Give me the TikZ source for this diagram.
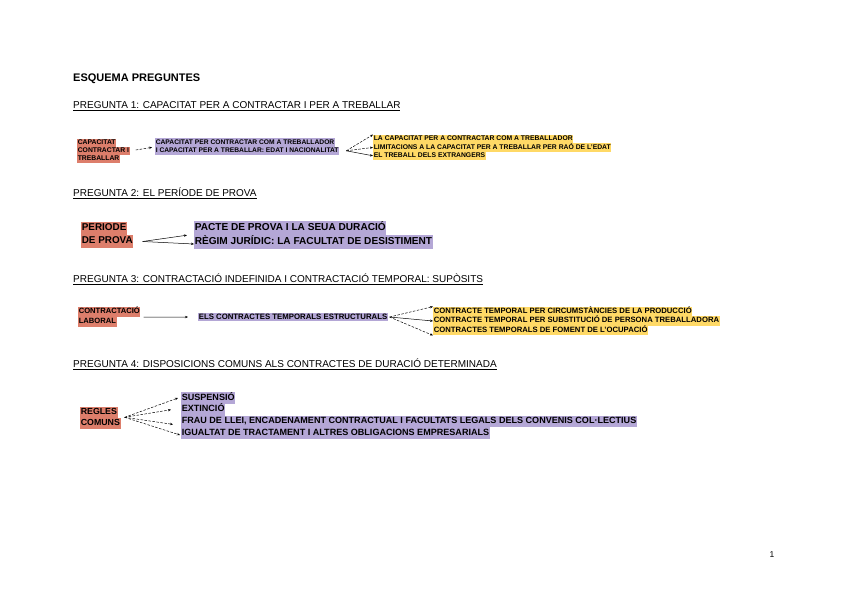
\documentclass[tikz,border=0pt]{standalone}
\usepackage{fontspec}
\setmainfont{Liberation Sans}
\usetikzlibrary{arrows.meta}
\definecolor{hlred}{HTML}{DD7E6B}
\definecolor{hlpur}{HTML}{B4A7D6}
\definecolor{hlyel}{HTML}{FFD966}
\newcommand{\fsz}[1]{\fontsize{#1}{#1}\selectfont}
\begin{document}
\begin{tikzpicture}[x=1pt,y=-1pt,
  hl/.style={anchor=west, inner xsep=0.6pt, inner ysep=0pt},
  q1red/.style={hl, fill=hlred, font=\bfseries\fsz{6.8}, text height=5.6pt, text depth=2.4pt},
  q1pur/.style={hl, fill=hlpur, font=\bfseries\fsz{6.7}, text height=5.8pt, text depth=2.5pt},
  q1yel/.style={hl, fill=hlyel, font=\bfseries\fsz{6.8}, text height=5.8pt, text depth=2.6pt},
  q2red/.style={hl, fill=hlred, font=\bfseries\fsz{9.9}, text height=8.8pt, text depth=4.2pt},
  q2pur/.style={hl, fill=hlpur, font=\bfseries\fsz{10.1}, text height=9.4pt, text depth=4.6pt},
  q3red/.style={hl, fill=hlred, font=\bfseries\fsz{7.6}, text height=6.6pt, text depth=3.2pt},
  q3pur/.style={hl, fill=hlpur, font=\bfseries\fsz{7.8}, text height=6.6pt, text depth=2.2pt},
  q3yel/.style={hl, fill=hlyel, font=\bfseries\fsz{7.7}, text height=6.6pt, text depth=2.9pt},
  q4red/.style={hl, fill=hlred, font=\bfseries\fsz{8.8}, text height=7.6pt, text depth=3.4pt},
  q4pur/.style={hl, fill=hlpur, font=\bfseries\fsz{9.05}, text height=8.0pt, text depth=3.7pt},
  heading/.style={anchor=west, inner sep=0pt, font=\fsz{10}},
  arr/.style={-{Stealth[length=3pt,width=2.4pt]}, line width=0.5pt},
  darr/.style={arr, dash pattern=on 2.5pt off 1.5pt}
]
\useasboundingbox[fill=white] (0,0) rectangle (848,600);

\node[anchor=west, inner sep=0pt, font=\bfseries\fsz{11}] (title) at (73,79) {ESQUEMA PREGUNTES};

% ---------- Pregunta 1
\node[heading] (h1) at (73,106.5) {\underline{PREGUNTA 1: CAPACITAT PER A CONTRACTAR I PER A TREBALLAR}};
\node[q1red] (r1a) at (77,143) {CAPACITAT};
\node[q1red] (r1b) at (77,151) {CONTRACTAR I};
\node[q1red] (r1c) at (77,159) {TREBALLAR};
\node[q1pur] (p1a) at (155,142.5) {CAPACITAT PER CONTRACTAR COM A TREBALLADOR};
\node[q1pur] (p1b) at (155,150.8) {I CAPACITAT PER A TREBALLAR: EDAT I NACIONALITAT};
\node[q1yel] (y1a) at (373,139) {LA CAPACITAT PER A CONTRACTAR COM A TREBALLADOR};
\node[q1yel] (y1b) at (373,147.4) {LIMITACIONS A LA CAPACITAT PER A TREBALLAR PER RAÓ DE L'EDAT};
\node[q1yel] (y1c) at (373,155.8) {EL TREBALL DELS EXTRANGERS};
\draw[darr, shorten <=6pt, shorten >=3pt] (r1b.east) -- (p1a.south west);
\coordinate (f1) at ([xshift=7pt]p1b.east);
\draw[darr] (f1) -- (y1a.north west);
\draw[darr] (f1) -- (y1b.west);
\draw[arr] (f1) -- (y1c.west);

% ---------- Pregunta 2
\node[heading] (h2) at (73,193) {\underline{PREGUNTA 2: EL PERÍODE DE PROVA}};
\node[q2red] (r2a) at (81,228.5) {PERIODE};
\node[q2red] (r2b) at (81,241.5) {DE PROVA};
\node[q2pur] (p2a) at (194,228) {PACTE DE PROVA I LA SEUA DURACIÓ};
\node[q2pur] (p2b) at (194,242) {RÈGIM JURÍDIC: LA FACULTAT DE DESISTIMENT};
\coordinate (f2) at ([xshift=9pt]r2b.east);
\draw[arr] (f2) -- ([xshift=-7pt]p2a.south west);
\draw[arr] (f2) -- ([yshift=-2pt]p2b.west);

% ---------- Pregunta 3
\node[heading] (h3) at (73,279.5) {\underline{PREGUNTA 3: CONTRACTACIÓ INDEFINIDA I CONTRACTACIÓ TEMPORAL: SUPÒSITS}};
\node[q3red] (r3a) at (78,312) {CONTRACTACIÓ};
\node[q3red] (r3b) at (78,321.8) {LABORAL};
\node[q3pur] (p3) at (198,317) {ELS CONTRACTES TEMPORALS ESTRUCTURALS};
\node[q3yel] (y3a) at (433,311.5) {CONTRACTE TEMPORAL PER CIRCUMSTÀNCIES DE LA PRODUCCIÓ};
\node[q3yel] (y3b) at (433,321) {CONTRACTE TEMPORAL PER SUBSTITUCIÓ DE PERSONA TREBALLADORA};
\node[q3yel] (y3c) at (433,330.5) {CONTRACTES TEMPORALS DE FOMENT DE L'OCUPACIÓ};
\draw[arr, shorten <=3pt, shorten >=10pt] (r3a.south east) -- (p3.west);
\coordinate (f3) at ([xshift=1.5pt]p3.east);
\draw[darr] (f3) -- (y3a.north west);
\draw[arr] (f3) -- (y3b.west);
\draw[darr] (f3) -- (y3c.south west);

% ---------- Pregunta 4
\node[heading] (h4) at (73,364.5) {\underline{PREGUNTA 4: DISPOSICIONS COMUNS ALS CONTRACTES DE DURACIÓ DETERMINADA}};
\node[q4red] (r4a) at (80,412) {REGLES};
\node[q4red] (r4b) at (80,423) {COMUNS};
\node[q4pur] (p4a) at (181,398) {SUSPENSIÓ};
\node[q4pur] (p4b) at (181,409.7) {EXTINCIÓ};
\node[q4pur] (p4c) at (181,421.4) {FRAU DE LLEI, ENCADENAMENT CONTRACTUAL I FACULTATS LEGALS DELS CONVENIS COL·LECTIUS};
\node[q4pur] (p4d) at (181,433) {IGUALTAT DE TRACTAMENT I ALTRES OBLIGACIONS EMPRESARIALS};
\coordinate (f4) at ([xshift=4pt]r4b.north east);
\draw[darr] (f4) -- ([xshift=-3pt]p4a.west);
\draw[darr] (f4) -- ([xshift=-10pt]p4b.west);
\draw[darr] (f4) -- ([xshift=-8pt,yshift=-3pt]p4c.west);
\draw[darr] (f4) -- ([xshift=-1pt,yshift=-2pt]p4d.west);

\node[anchor=center, inner sep=0pt, font=\fsz{8.5}] (pg) at (772,555) {1};
\end{tikzpicture}
\end{document}
